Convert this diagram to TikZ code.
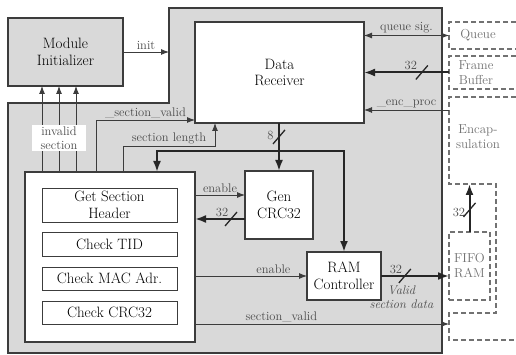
\documentclass[tikz,border=0pt]{standalone}
\usepackage{tikz}
\usetikzlibrary{arrows.meta,calc}
\definecolor{regc}{HTML}{D9D9D9}
\definecolor{bordc}{HTML}{3C3C3C}
\definecolor{labc}{HTML}{4A4A4A}
\definecolor{extc}{HTML}{727272}
\newcommand\mainf{\fontsize{15}{17}\selectfont}
\newcommand\labf{\fontsize{12.5}{14}\selectfont}
\newcommand\extf{\fontsize{13}{15}\selectfont}

\begin{document}
\begin{tikzpicture}[x=1pt,y=-1pt,
    blk/.style={draw=bordc, line width=1.3pt, fill=white, align=center, font=\mainf, inner sep=0pt, outer sep=0pt},
    sub/.style={blk, line width=0.9pt},
    ext/.style={draw=extc, line width=1.1pt, dash pattern=on 5pt off 3pt},
    extt/.style={font=\extf, text=extc, align=center},
    lbl/.style={font=\labf, text=labc, inner sep=1.5pt},
    sig/.style={draw=bordc, line width=0.9pt, -{Latex[length=8pt,width=6pt]}},
    bus/.style={draw=black!85, line width=2pt, -{Latex[length=11pt,width=8pt]}},
    slashc/.style={draw=black!85, line width=1.3pt}]
    \useasboundingbox (0,0) rectangle (516,355);
    \clip (0,0) rectangle (516,355);
    \fill[white] (0,0) rectangle (516,355);
    \filldraw[fill=regc, draw=bordc, line width=1.6pt] (8,103) -- (169,103) -- (169,8) -- (442,8) -- (442,353) -- (8,353) -- cycle;
    \coordinate (notch) at (169,103);

    % blocks
    \node[blk, fill=regc, line width=1.6pt, minimum width=115, minimum height=68] (mi) at (65.5,52) {Module\\Initializer};
    \node[blk, minimum width=169, minimum height=101] (dr) at (279.5,72.5) {Data\\Receiver};
    \node[blk, minimum width=68, minimum height=68] (crc) at (279,205) {Gen\\CRC32};
    \node[blk, minimum width=74, minimum height=48] (ram) at (344,276) {RAM\\Controller};
    \node[blk, minimum width=170, minimum height=170] (sec) at (110,257) {};
    \foreach \n/\y/\h/\t in {gsh/205/34/{Get Section\\Header}, tid/244/24/{Check TID}, mac/278.5/23/{Check MAC Adr.}, chk/312.5/23/{Check CRC32}}
        \node[sub, minimum width=135, minimum height=\h] (\n) at (109.5,\y) {\t};

    % outside blocks
    \draw[ext] (516,22) -- (449,22) -- (449,49) -- (516,49);
    \draw[ext] (516,56) -- (449,56) -- (449,89) -- (516,89);
    \draw[ext] (516,97) -- (449,97) -- (449,184) -- (496,184) -- (496,313) -- (449,313) -- (449,340) -- (516,340);
    \node[extt] (queue) at (478,35.5) {Queue};
    \node[extt] (fb) at (476,72.5) {Frame\\Buffer};
    \node[extt] (enc) at (478,137) {Encap-\\sulation};
    \node[ext, extt, minimum width=41, minimum height=68, inner sep=0pt, outer sep=0pt] (fifo) at (469.5,266) {FIFO\\RAM};
    \coordinate (qin) at (449,35.5);
    \coordinate (fbin) at (449,72.5);
    \coordinate (encin) at (449,110);
    \coordinate (encb) at (469.5,184);
    \coordinate (sv) at (449,324);

    % signals
    \draw[sig] (mi.east) -- (mi.east -| notch) node[lbl, midway, above] {init};
    \draw[sig, {Latex[length=8pt,width=6pt]}-{Latex[length=8pt,width=6pt]}] (qin -| dr.east) -- (qin) node[lbl, midway, above] {queue sig.};
    \draw[bus] (fbin) -- (fbin -| dr.east) coordinate[pos=0.32] (s1) node[lbl, pos=0.45, above] {32};
    \draw[sig] (encin) -- (encin -| dr.east) node[lbl, midway, above] {\_enc\_proc};
    \foreach \dx in {17,34,51}
        \draw[sig] ([xshift=\dx]sec.north west) coordinate (p) -- (p |- mi.south);
    \node[lbl, fill=white, align=center, inner sep=2pt, minimum width=54] (inv) at (59,138) {invalid\\section};
    \draw[sig] ([xshift=71]sec.north west) |- ([yshift=3]dr.south west) node[lbl, pos=0.75, above] {\_section\_valid};
    \draw[sig] ([xshift=98]sec.north west) -- ++(0,-26) -| ([xshift=20]dr.south west) node[lbl, pos=0.25, above] {section length};
    \draw[bus] (dr.south -| crc) -- (crc.north) coordinate[pos=0.29] (s2) node[lbl, pos=0.25, left=3pt] {8};
    \coordinate (br) at (279,151);
    \draw[bus] (br) -| (ram.north);
    \draw[bus] (br) -| ([xshift=47]sec.north);
    \coordinate (e1) at ([yshift=10]crc.west);
    \coordinate (r1) at ([yshift=-14]crc.west);
    \draw[sig] (e1 -| sec.east) -- (e1) node[lbl, midway, above] {enable};
    \draw[bus] (r1) -- (r1 -| sec.east) coordinate[pos=0.28] (s3) node[lbl, pos=0.46, above] {32};
    \draw[sig] (ram.west -| sec.east) -- (ram.west) node[lbl, pos=0.7, above] {enable};
    \draw[bus] (ram.east) -- (ram.east -| fifo.west) coordinate[pos=0.35] (s4) node[lbl, pos=0.22, above] {32}
        node[lbl, pos=0.3, below=7pt, align=center, font=\labf\itshape] {Valid\\section data};
    \draw[sig] (sv -| sec.east) -- (sv) node[lbl, pos=0.34, above] {section\_valid};
    \draw[bus] (fifo.north) -- (encb) coordinate[pos=0.46] (s5) node[lbl, pos=0.4, left=2pt] {32};
    \foreach \s in {s1,s2,s3,s4,s5}
        \draw[slashc] ([shift={(-6,7)}]\s) -- ([shift={(6,-7)}]\s);
\end{tikzpicture}
\end{document}
